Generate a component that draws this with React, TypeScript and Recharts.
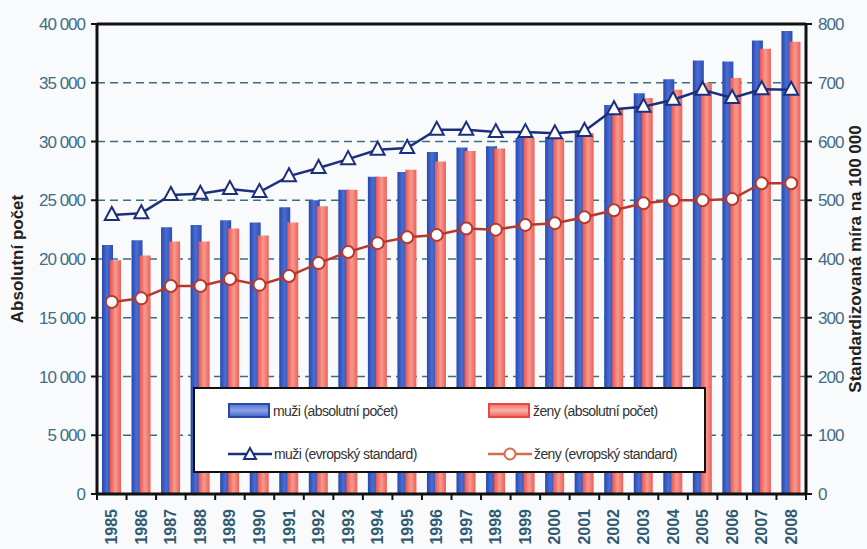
import React from 'react';
import {
  ComposedChart, Bar, Line, XAxis, YAxis, CartesianGrid, ReferenceLine, Legend,
} from 'recharts';

const years = [
  '1985', '1986', '1987', '1988', '1989', '1990', '1991', '1992', '1993', '1994', '1995', '1996',
  '1997', '1998', '1999', '2000', '2001', '2002', '2003', '2004', '2005', '2006', '2007', '2008',
];
const menCount = [
  21200, 21600, 22700, 22900, 23300, 23100, 24400, 25000, 25900, 27000, 27400, 29100,
  29500, 29600, 30300, 30400, 30800, 33100, 34100, 35300, 36900, 36800, 38600, 39400,
];
const womenCount = [
  19900, 20300, 21500, 21500, 22600, 22000, 23100, 24500, 25900, 27000, 27600, 28300,
  29200, 29400, 30300, 30300, 30700, 32800, 33700, 34400, 35000, 35400, 37900, 38500,
];
const menRate = [
  475, 478, 509, 511, 519, 514, 541, 555, 570, 586, 589, 620,
  620, 616, 616, 614, 618, 655, 659, 671, 688, 674, 689, 688,
];
const womenRate = [
  327, 333, 354, 354, 366, 356, 371, 393, 412, 427, 437, 441,
  452, 450, 458, 461, 471, 483, 495, 500, 500, 502, 529, 529,
];
const leftTicks = [0, 5000, 10000, 15000, 20000, 25000, 30000, 35000, 40000];
const rightTicks = [0, 100, 200, 300, 400, 500, 600, 700, 800];

const data = years.map((y, i) => ({
  year: y,
  menCount: menCount[i],
  womenCount: womenCount[i],
  menRate: menRate[i],
  womenRate: womenRate[i],
}));

const W = 867;
const H = 549;
const PLOT_LEFT = 97;
const PLOT_RIGHT = 806;
const STEP = (PLOT_RIGHT - PLOT_LEFT) / years.length;

const NAVY = '#1c2f7c';
const RUST = '#b8392c';
const TICK_COLOR = '#3f6d88';
const NARROW = '"Liberation Sans Narrow", "Liberation Sans", Arial, sans-serif';
const SANS = '"Liberation Sans", Arial, sans-serif';

const fmt = (v: number) => String(v).replace(/\B(?=(\d{3})+(?!\d))/g, ' ');

const Triangle = (props: any) => {
  const { cx, cy } = props;
  if (cx == null || cy == null) return null;
  return (
    <polygon
      points={`${cx},${cy - 8} ${cx - 7},${cy + 5} ${cx + 7},${cy + 5}`}
      fill="#fff"
      stroke={NAVY}
      strokeWidth={2}
    />
  );
};

const Circle = (props: any) => {
  const { cx, cy } = props;
  if (cx == null || cy == null) return null;
  return <circle cx={cx} cy={cy} r={6} fill="#fff" stroke={RUST} strokeWidth={2} />;
};

const YearTick = (props: any) => {
  const { x, y, payload, index } = props;
  const axisY = y - 8;
  return (
    <g>
      <line x1={x - STEP / 2} y1={axisY} x2={x - STEP / 2} y2={axisY + 6} stroke="#111" strokeWidth={2} />
      {index === years.length - 1 && (
        <line x1={x + STEP / 2} y1={axisY} x2={x + STEP / 2} y2={axisY + 6} stroke="#111" strokeWidth={2} />
      )}
      <text
        x={x}
        y={axisY + 15}
        transform={`rotate(-90 ${x} ${axisY + 15})`}
        textAnchor="end"
        dominantBaseline="central"
        fill="#2f5a73"
        fontFamily={SANS}
        fontSize={16}
        fontWeight={600}
      >
        {payload.value}
      </text>
    </g>
  );
};

const BarSwatch = ({ fill, border }: { fill: string; border: string }) => (
  <span
    style={{
      display: 'inline-block',
      width: 38,
      height: 11,
      border: `2px solid ${border}`,
      background: fill,
      marginRight: 3,
    }}
  />
);

const LineSwatch = ({ color, marker }: { color: string; marker: 'tri' | 'circle' }) => (
  <svg width={44} height={16} style={{ marginRight: 2 }}>
    <line x1={0} y1={8} x2={44} y2={8} stroke={color} strokeWidth={2.5} />
    {marker === 'tri' ? (
      <polygon points="22,2 16,13 28,13" fill="#fff" stroke={color} strokeWidth={2} />
    ) : (
      <circle cx={22} cy={8} r={5.5} fill="#fff" stroke={color} strokeWidth={2} />
    )}
  </svg>
);

const LegendBox = () => {
  const item: React.CSSProperties = {
    display: 'flex',
    alignItems: 'center',
    fontFamily: NARROW,
    fontSize: 14,
    letterSpacing: -0.6,
    color: '#333',
    height: 43,
  };
  return (
    <div
      style={{
        boxSizing: 'border-box',
        width: 513,
        height: 86,
        border: '2.5px solid #111',
        background: '#fff',
        display: 'grid',
        gridTemplateColumns: '260px 240px',
        paddingLeft: 33,
      }}
    >
      <div style={item}>
        <BarSwatch fill="linear-gradient(#5b7bd6, #8aa2e6, #4a6cd0)" border="#2a48a8" />
        muži (absolutní počet)
      </div>
      <div style={item}>
        <BarSwatch fill="linear-gradient(#f27a70, #f9b0a8, #f06a60)" border="#e8483f" />
        ženy (absolutní počet)
      </div>
      <div style={item}>
        <LineSwatch color={NAVY} marker="tri" />
        muži (evropský standard)
      </div>
      <div style={item}>
        <LineSwatch color="#d66a4c" marker="circle" />
        ženy (evropský standard)
      </div>
    </div>
  );
};

export default function App() {
  return (
    <div style={{ position: 'absolute', left: 0, top: 0, width: W, height: H, background: '#f9fafc' }}>
      <ComposedChart
        width={W}
        height={H}
        data={data}
        margin={{ top: 24, right: 0, bottom: 0, left: 0 }}
        barSize={11}
        barGap={-3}
      >
        <defs>
          <linearGradient id="blueBar" x1="0" y1="0" x2="1" y2="0">
            <stop offset="0%" stopColor="#2747b0" />
            <stop offset="45%" stopColor="#4a6dd0" />
            <stop offset="100%" stopColor="#2c4db6" />
          </linearGradient>
          <linearGradient id="redBar" x1="0" y1="0" x2="1" y2="0">
            <stop offset="0%" stopColor="#ec544b" />
            <stop offset="50%" stopColor="#f69a90" />
            <stop offset="100%" stopColor="#ee5f56" />
          </linearGradient>
        </defs>
        <CartesianGrid
          yAxisId="left"
          vertical={false}
          stroke="#3c6f7e"
          strokeDasharray="8 5"
          strokeWidth={1.5}
        />
        <XAxis
          dataKey="year"
          height={55}
          interval={0}
          axisLine={{ stroke: '#111', strokeWidth: 3 }}
          tickLine={false}
          tickSize={6}
          tickMargin={2}
          tick={<YearTick />}
        />
        <YAxis
          yAxisId="left"
          width={97}
          domain={[0, 40000]}
          ticks={leftTicks}
          tickFormatter={fmt}
          axisLine={{ stroke: '#111', strokeWidth: 3 }}
          tickLine={{ stroke: '#111', strokeWidth: 2 }}
          tickSize={6}
          tickMargin={6}
          tick={{ fill: TICK_COLOR, fontFamily: NARROW, fontSize: 17, letterSpacing: -1 }}
          label={{
            value: 'Absolutní počet',
            angle: -90,
            position: 'insideLeft',
            offset: 17,
            style: { textAnchor: 'middle', fontFamily: SANS, fontWeight: 700, fontSize: 17, fill: '#222' },
          }}
        />
        <YAxis
          yAxisId="right"
          orientation="right"
          width={61}
          domain={[0, 800]}
          ticks={rightTicks}
          axisLine={{ stroke: '#111', strokeWidth: 3 }}
          tickLine={{ stroke: '#111', strokeWidth: 2 }}
          tickSize={6}
          tickMargin={6}
          tick={{ fill: TICK_COLOR, fontFamily: NARROW, fontSize: 17, letterSpacing: -1 }}
          label={{
            value: 'Standardizovaná míra na 100 000',
            angle: -90,
            position: 'insideRight',
            offset: 12,
            style: { textAnchor: 'middle', fontFamily: SANS, fontWeight: 700, fontSize: 17, fill: '#222' },
          }}
        />
        <ReferenceLine yAxisId="left" y={40000} stroke="#111" strokeWidth={3} />
        <Bar yAxisId="left" dataKey="menCount" name="muži (absolutní počet)" fill="url(#blueBar)" isAnimationActive={false} />
        <Bar yAxisId="left" dataKey="womenCount" name="ženy (absolutní počet)" fill="url(#redBar)" isAnimationActive={false} />
        <Line
          yAxisId="right"
          dataKey="menRate"
          name="muži (evropský standard)"
          stroke={NAVY}
          strokeWidth={2.5}
          dot={<Triangle />}
          isAnimationActive={false}
        />
        <Line
          yAxisId="right"
          dataKey="womenRate"
          name="ženy (evropský standard)"
          stroke={RUST}
          strokeWidth={2.5}
          dot={<Circle />}
          isAnimationActive={false}
        />
        <Legend
          layout="horizontal"
          verticalAlign="middle"
          align="center"
          wrapperStyle={{ left: 193, top: 387, width: 513 }}
          content={<LegendBox />}
        />
      </ComposedChart>
    </div>
  );
}
